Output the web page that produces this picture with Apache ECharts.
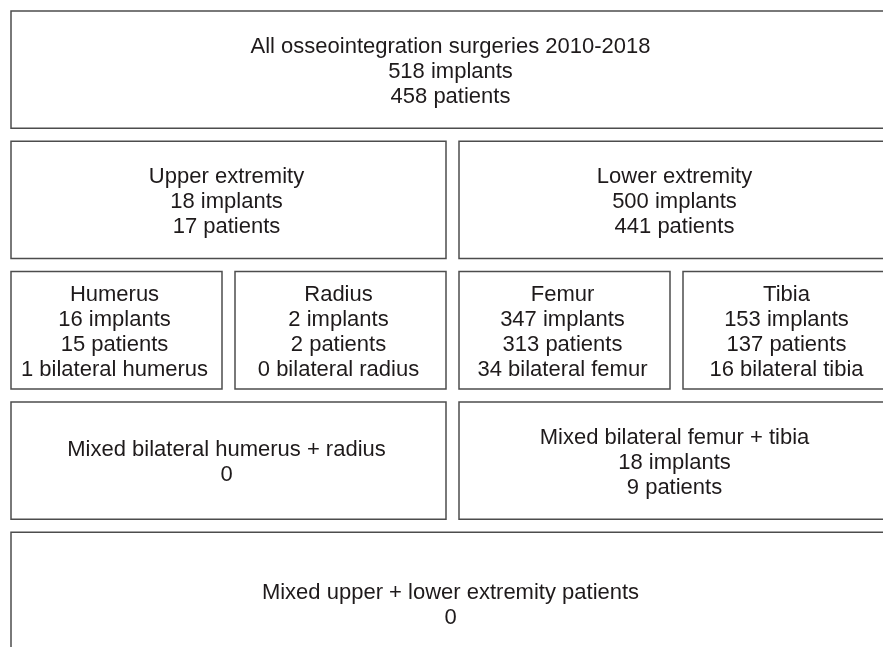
<!DOCTYPE html>
<html lang="en">
<head>
    <meta charset="UTF-8">
    <title>Osseointegration surgeries</title>
    <script type="text/javascript" src="https://cdn.jsdelivr.net/npm/echarts@6/dist/echarts.min.js"></script>
    <style>
        html, body { margin: 0; padding: 0; background: #fff; }
        #chart { width: 883px; height: 647px; }
    </style>
</head>
<body>
<div id="chart"></div>
<script type="text/javascript">
    // box contents
    var boxNames = ['All osseointegration surgeries 2010-2018', 'Upper extremity', 'Lower extremity',
        'Humerus', 'Radius', 'Femur', 'Tibia',
        'Mixed bilateral humerus + radius', 'Mixed bilateral femur + tibia',
        'Mixed upper + lower extremity patients'];
    var implants = [518, 18, 500, 16, 2, 347, 153, null, 18, null];
    var patients = [458, 17, 441, 15, 2, 313, 137, 0, 9, 0];
    var bilateral = [null, null, null, 1, 0, 34, 16, null, null, null];

    // where each box sits: row, row span, first column, last column (quarter columns)
    var boxRow = [0, 1, 1, 2, 2, 2, 2, 3, 3, 4];
    var boxRowSpan = [1, 1, 1, 1, 1, 1, 1, 1, 1, 1.2];
    var boxColStart = [0, 0, 2, 0, 1, 2, 3, 0, 2, 0];
    var boxColEnd = [4, 2, 4, 1, 2, 3, 4, 2, 4, 4];

    function boxText(i) {
        var lines = [boxNames[i]];
        if (implants[i] != null) {
            lines.push(implants[i] + ' implants');
            lines.push(patients[i] + ' patients');
        } else {
            lines.push(String(patients[i]));
        }
        if (bilateral[i] != null) {
            lines.push(bilateral[i] + ' bilateral ' + boxNames[i].toLowerCase());
        }
        return lines.join('\n');
    }

    var data = [];
    for (var i = 0; i < boxNames.length; i++) {
        data.push([boxColStart[i], boxColEnd[i], boxRow[i], boxRow[i] + boxRowSpan[i], i]);
    }

    // the figure is cropped on the right and bottom: the visible area
    // only shows part of the last column / row
    var gap = 13;
    var chart = echarts.init(document.getElementById('chart'));
    var option = {
        animation: false,
        grid: { left: 11, top: 11, right: 0, bottom: 0 },
        xAxis: { type: 'value', min: 0, max: 872 / 224, show: false },
        yAxis: { type: 'value', min: 0, max: 636 / 130.3, inverse: true, show: false },
        series: [{
            type: 'custom',
            clip: false,
            data: data,
            renderItem: function (params, api) {
                var p0 = api.coord([api.value(0), api.value(2)]);
                var p1 = api.coord([api.value(1), api.value(3)]);
                var w = p1[0] - p0[0] - gap;
                var h = p1[1] - p0[1] - gap;
                return {
                    type: 'group',
                    children: [{
                        type: 'rect',
                        shape: { x: p0[0], y: p0[1], width: w, height: h },
                        style: { fill: '#fff', stroke: '#4d4d4d', lineWidth: 1.5 }
                    }, {
                        type: 'text',
                        x: p0[0] + w / 2 - 2,
                        y: p0[1] + h / 2 + 2,
                        style: {
                            text: boxText(api.value(4)),
                            fill: '#1e1a1b',
                            font: '22px "Liberation Sans", Arial, sans-serif',
                            lineHeight: 25,
                            align: 'center',
                            verticalAlign: 'middle'
                        }
                    }]
                };
            }
        }]
    };
    chart.setOption(option);
</script>
</body>
</html>
